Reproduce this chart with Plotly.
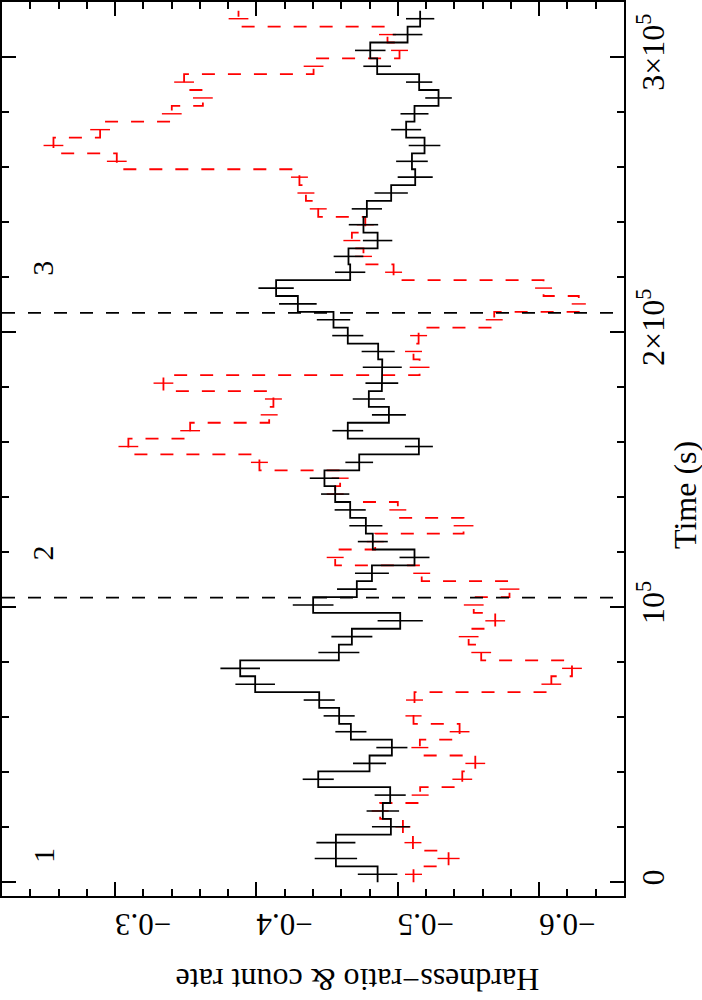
import plotly.graph_objects as go

# ---- data ----
bin_center = [2880, 8640, 14400, 20160, 25920, 31680, 37440, 43200, 48960, 54720,
              60480, 66240, 72000, 77760, 83520, 89280, 95040, 100800, 106560, 112320,
              118080, 123840, 129600, 135360, 141120, 146880, 152640, 158400, 164160, 169920,
              175680, 181440, 187200, 192960, 198720, 204480, 210240, 216000, 221760, 227520,
              233280, 239040, 244800, 250560, 256320, 262080, 267840, 273600, 279360, 285120,
              290880, 296640, 302400, 308160, 313920]
bin_half = 2880

hardness = [-0.4857, -0.4562, -0.4562, -0.4951, -0.4894, -0.4946, -0.4437, -0.4800, -0.4958, -0.4668,
            -0.4585, -0.4444, -0.3991, -0.3885, -0.4583, -0.4675, -0.5017, -0.4401, -0.4710, -0.4817,
            -0.5118, -0.4823, -0.4774, -0.4663, -0.4557, -0.4481, -0.4727, -0.5149, -0.4646, -0.4937,
            -0.4795, -0.4887, -0.4890, -0.4861, -0.4646, -0.4545, -0.4293, -0.4139, -0.4663, -0.4651,
            -0.4857, -0.4757, -0.4781, -0.4953, -0.5123, -0.5100, -0.5189, -0.5059, -0.5118, -0.5288,
            -0.5151, -0.4854, -0.4805, -0.5069, -0.5158]
hardness_err = [0.014, 0.015, 0.0138, 0.0134, 0.0115, 0.011, 0.011, 0.0117, 0.011, 0.011,
                0.011, 0.011, 0.014, 0.014, 0.0145, 0.0145, 0.016, 0.0144, 0.014, 0.012,
                0.0106, 0.0106, 0.0117, 0.011, 0.010, 0.0104, 0.0098, 0.0099, 0.0109, 0.012,
                0.0114, 0.0116, 0.0138, 0.0117, 0.011, 0.0118, 0.0133, 0.0125, 0.0107, 0.0105,
                0.0104, 0.0104, 0.0107, 0.0118, 0.0124, 0.0112, 0.0112, 0.0106, 0.0099, 0.0094,
                0.0093, 0.0098, 0.0108, 0.0105, 0.010]

count_rate = [-0.5111, -0.5359, -0.5107, -0.5036, -0.4875, -0.5158, -0.5456, -0.5548, -0.5156, -0.5437,
              -0.5111, -0.5118, -0.6086, -0.6232, -0.5590, -0.5501, -0.5689, -0.5537, -0.5790, -0.5169,
              -0.4557, -0.4840, -0.5465, -0.5000, -0.4557, -0.4592, -0.4021, -0.3094, -0.3531, -0.4090,
              -0.4120, -0.3342, -0.5154, -0.5111, -0.5147, -0.5682, -0.6280, -0.6031, -0.4970, -0.4757,
              -0.4675, -0.4770, -0.4437, -0.4350, -0.4304, -0.3012, -0.2564, -0.2894, -0.3401, -0.3621,
              -0.3488, -0.4404, -0.5012, -0.4927, -0.3873]
count_rate_err = [0.006, 0.0078, 0.006, 0.0053, 0.006, 0.006, 0.007, 0.007, 0.006, 0.007,
                  0.0057, 0.006, 0.007, 0.007, 0.007, 0.007, 0.007, 0.007, 0.007, 0.006,
                  0.006, 0.006, 0.007, 0.006, 0.006, 0.006, 0.006, 0.007, 0.007, 0.006,
                  0.006, 0.007, 0.007, 0.006, 0.006, 0.006, 0.005, 0.006, 0.006, 0.006,
                  0.006, 0.006, 0.006, 0.006, 0.006, 0.007, 0.007, 0.007, 0.007, 0.007,
                  0.007, 0.007, 0.006, 0.006, 0.007]

boundary_times = [103500, 207000]
segment_labels = ["1", "2", "3"]
segment_label_t = [9500, 119500, 223000]
segment_label_h = -0.249

time_tickvals = [0, 100000, 200000, 300000]
time_ticktext = ["0", "10<sup>5</sup>", "2×10<sup>5</sup>", "3×10<sup>5</sup>"]
hr_tickvals = [-0.6, -0.5, -0.4, -0.3]
hr_ticktext = ["−0.6", "−0.5", "−0.4", "−0.3"]

FONT = "Liberation Serif"


def step_path(values):
    xs, ys = [], []
    for c, v in zip(bin_center, values):
        xs += [v, v]
        ys += [c - bin_half, c + bin_half]
    return xs, ys


fig = go.Figure()

rx, ry = step_path(count_rate)
fig.add_trace(go.Scatter(x=rx, y=ry, mode="lines",
                         line=dict(color="red", width=1.8, dash="13px,13px"),
                         hoverinfo="skip", showlegend=False))
fig.add_trace(go.Scatter(x=count_rate, y=bin_center, mode="markers",
                         marker=dict(size=1, color="red", opacity=0),
                         error_x=dict(type="data", array=count_rate_err, visible=True,
                                      color="red", thickness=1.4, width=0),
                         hoverinfo="skip", showlegend=False))

bx, by = step_path(hardness)
fig.add_trace(go.Scatter(x=bx, y=by, mode="lines",
                         line=dict(color="black", width=1.8),
                         hoverinfo="skip", showlegend=False))
fig.add_trace(go.Scatter(x=hardness, y=bin_center, mode="markers",
                         marker=dict(size=1, color="black", opacity=0),
                         error_x=dict(type="data", array=hardness_err, visible=True,
                                      color="black", thickness=1.6, width=0),
                         hoverinfo="skip", showlegend=False))

for tb in boundary_times:
    fig.add_shape(type="line", xref="paper", x0=0, x1=1, yref="y", y0=tb, y1=tb,
                  line=dict(color="black", width=1.8, dash="13px,13px"))

for lab, tl in zip(segment_labels, segment_label_t):
    fig.add_annotation(x=segment_label_h, y=tl, xref="x", yref="y", text=lab,
                       showarrow=False, textangle=-90,
                       font=dict(family=FONT, size=30, color="black"))

fig.add_annotation(x=0.571, y=-0.094, xref="paper", yref="paper",
                   text="Hardness−ratio & count rate", showarrow=False, textangle=180,
                   font=dict(family=FONT, size=32, color="black"),
                   xanchor="center", yanchor="middle")
fig.add_annotation(x=1.098, y=0.4485, xref="paper", yref="paper",
                   text="Time (s)", showarrow=False, textangle=-90,
                   font=dict(family=FONT, size=32, color="black"),
                   xanchor="center", yanchor="middle")

fig.update_xaxes(range=[-0.22, -0.66], tickvals=hr_tickvals, ticktext=hr_ticktext,
                 tickangle=180, ticks="inside", ticklen=14, tickwidth=1.5, tickcolor="black",
                 showline=True, linecolor="black", linewidth=1.8, mirror="allticks",
                 showgrid=False, zeroline=False, automargin=False, ticklabelstandoff=10,
                 minor=dict(dtick=0.02, tick0=0, ticks="inside", ticklen=7, tickwidth=1.5,
                            tickcolor="black", showgrid=False),
                 tickfont=dict(family=FONT, size=31, color="black"))
fig.update_yaxes(range=[-5000, 320000], side="right", tickvals=time_tickvals, ticktext=time_ticktext,
                 tickangle=-90, ticks="inside", ticklen=14, tickwidth=1.5, tickcolor="black",
                 showline=True, linecolor="black", linewidth=1.8, mirror="allticks",
                 showgrid=False, zeroline=False, automargin=False,
                 minor=dict(dtick=20000, tick0=0, ticks="inside", ticklen=7, tickwidth=1.5,
                            tickcolor="black", showgrid=False),
                 tickfont=dict(family=FONT, size=32, color="black"))

fig.update_layout(width=702, height=1000, margin=dict(l=2, r=78, t=2, b=104),
                  plot_bgcolor="white", paper_bgcolor="white", showlegend=False,
                  hovermode=False)

fig.write_html("out.html", config={"displayModeBar": False},
               post_script="document.body.style.margin='0px';")
